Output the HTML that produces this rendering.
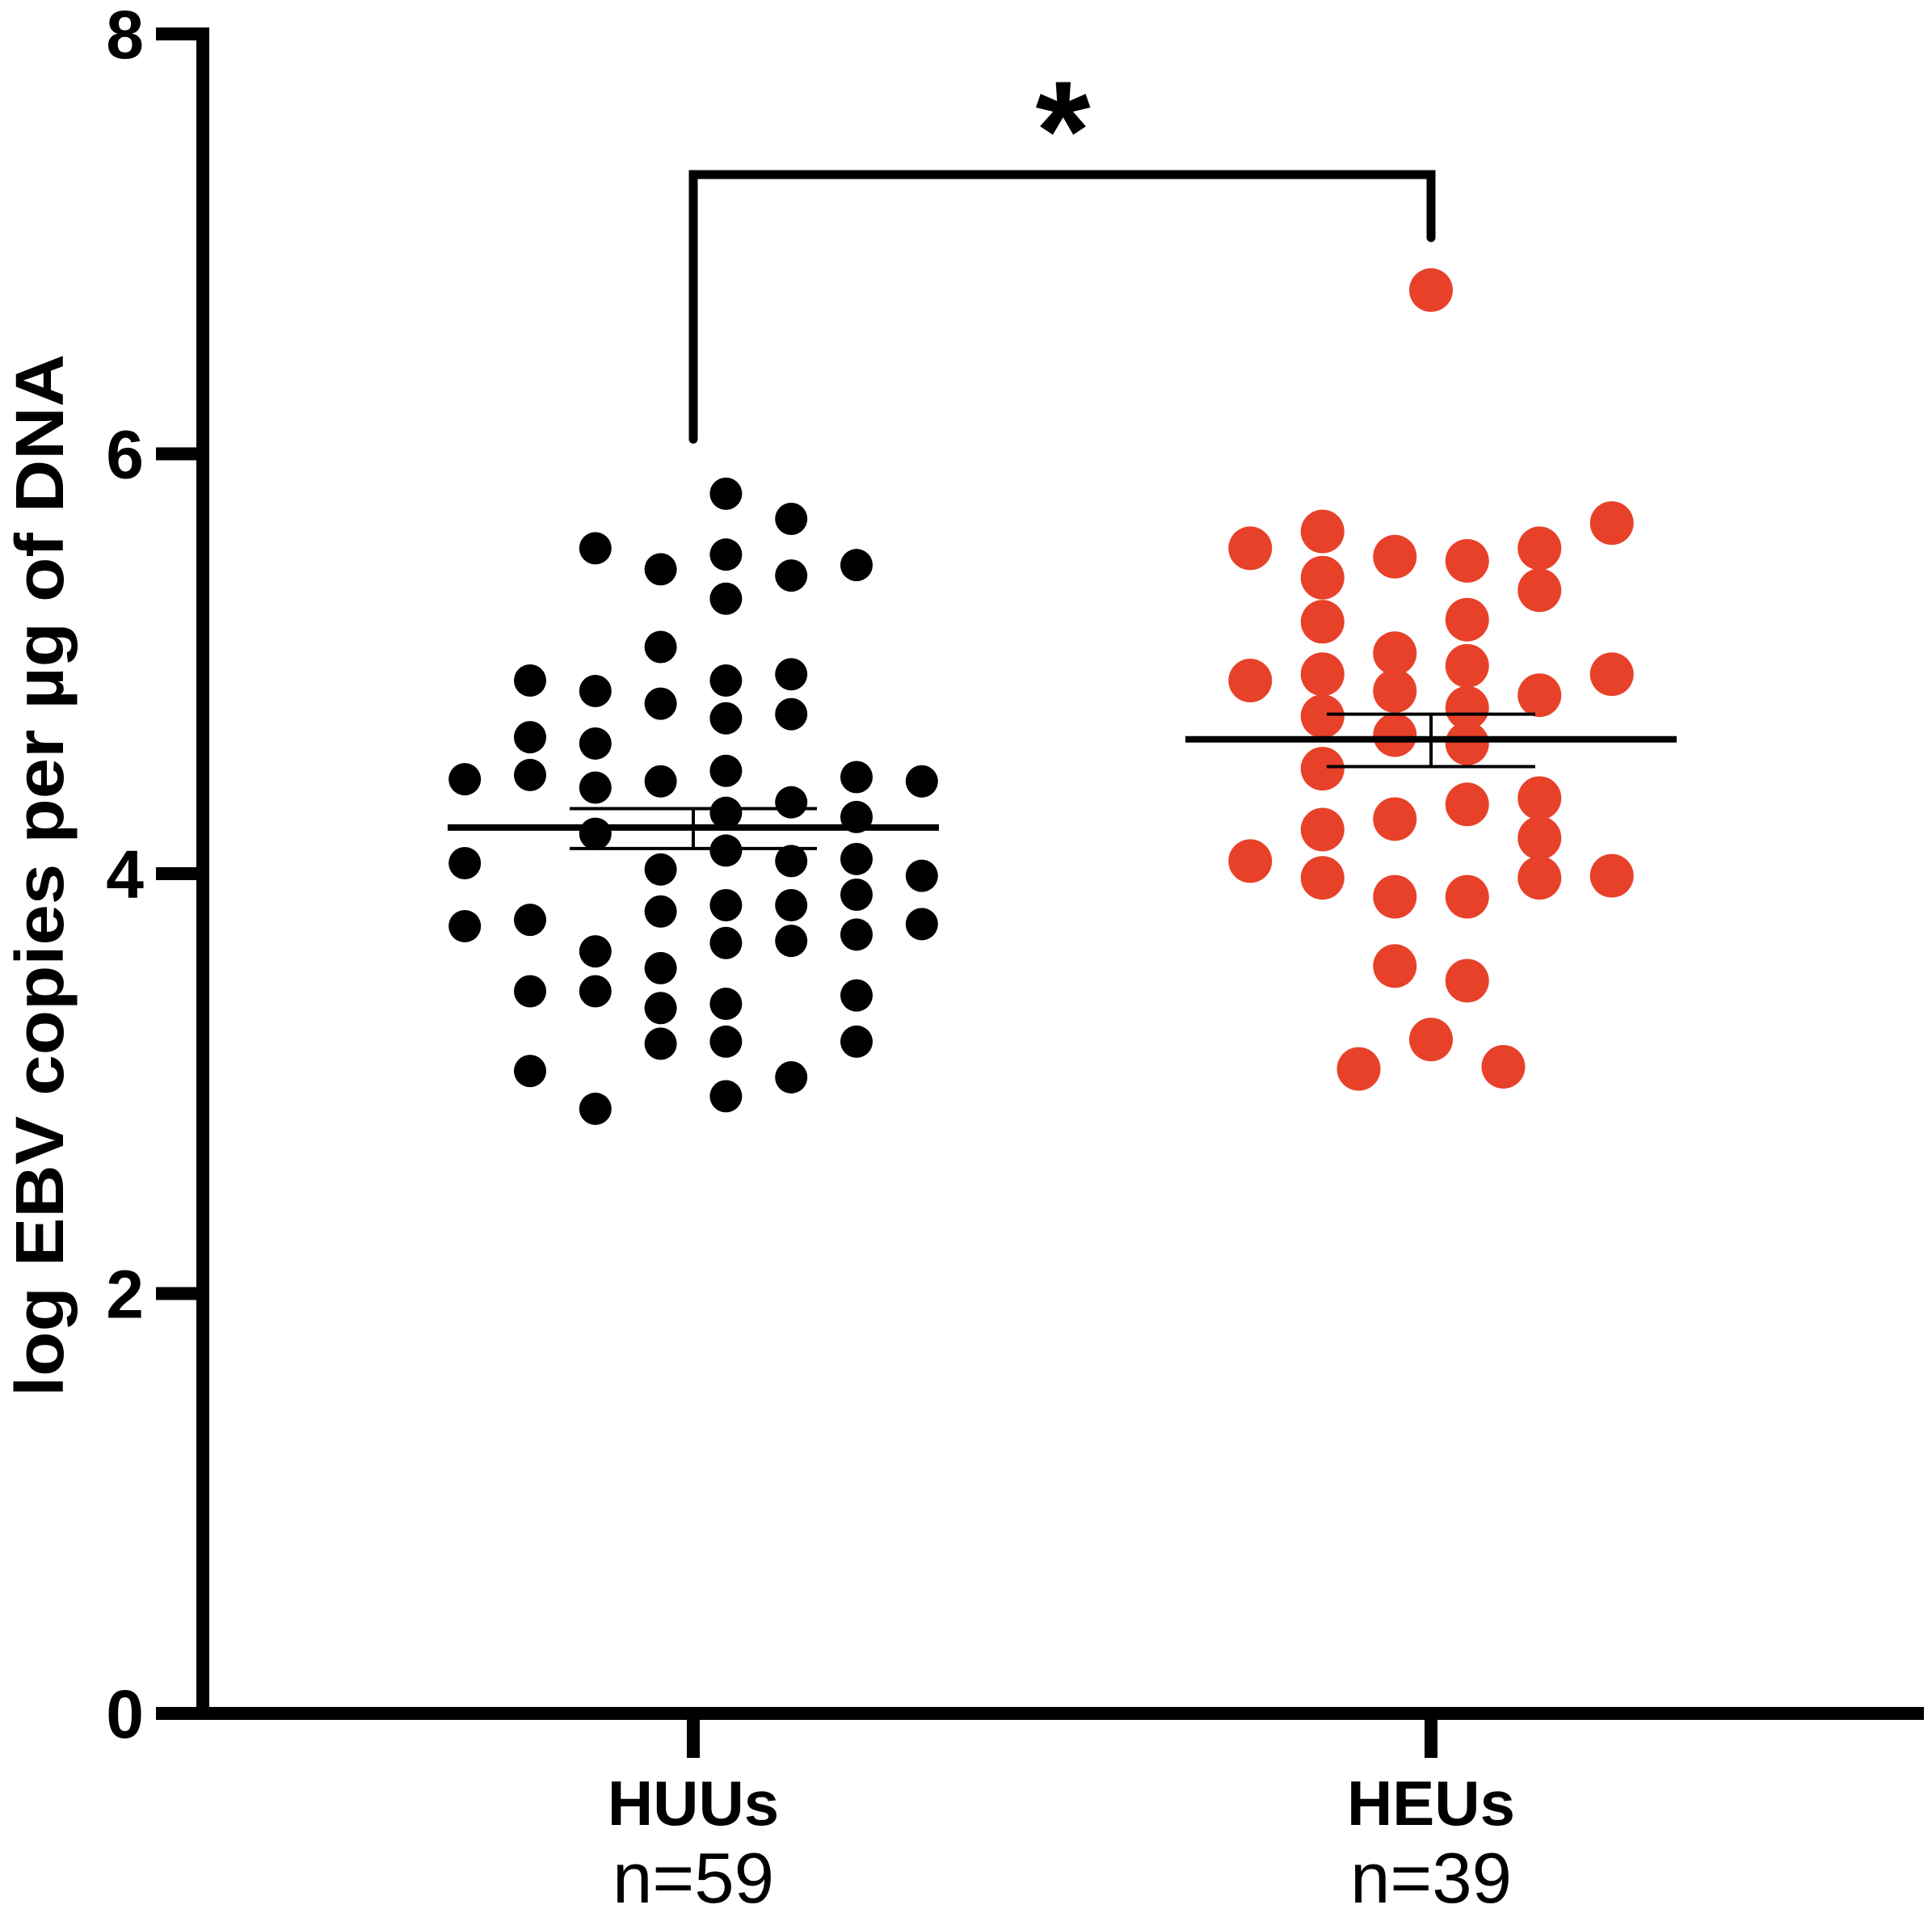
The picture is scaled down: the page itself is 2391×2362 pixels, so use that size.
<!DOCTYPE html>
<html><head><meta charset="utf-8"><style>html,body{margin:0;padding:0;background:#fff}svg{display:block}</style></head>
<body>
<svg id="chart" width="2391" height="2362" viewBox="0 0 2391 2362" xmlns="http://www.w3.org/2000/svg" font-family="Liberation Sans, sans-serif">
<g id="axes"></g>
<g id="marks"></g>
</svg>
<script>
const categories = ["HUUs", "HEUs"];
const counts = ["n=59", "n=39"];
const yTicks = [0, 2, 4, 6, 8];
// HUU values grouped by jitter column
const huuValues = [
  [4.45, 4.05, 3.75],
  [4.92, 4.65, 4.47, 3.78, 3.44, 3.06],
  [5.55, 4.87, 4.62, 4.41, 4.19, 3.63, 3.44, 2.88],
  [5.45, 5.08, 4.81, 4.44, 4.02, 3.82, 3.55, 3.36, 3.19],
  [5.81, 5.52, 5.31, 4.92, 4.74, 4.49, 4.29, 4.11, 3.85, 3.67, 3.38, 3.20, 2.94],
  [5.69, 5.42, 4.95, 4.76, 4.34, 4.06, 3.85, 3.68, 3.03],
  [5.47, 4.46, 4.27, 4.07, 3.90, 3.71, 3.42, 3.20],
  [4.44, 3.99, 3.76]
];
const huuColumnOffsets = [-3.5, -2.5, -1.5, -0.5, 0.5, 1.5, 2.5, 3.5];
const heuValues = [
  [5.55, 4.92, 4.06],
  [5.63, 5.41, 5.20, 4.95, 4.75, 4.50, 4.21, 3.98],
  [3.07],
  [5.51, 5.05, 4.87, 4.66, 4.26, 3.89, 3.56],
  [6.78, 3.21],
  [5.49, 5.21, 4.99, 4.79, 4.62, 4.33, 3.89, 3.49],
  [3.08],
  [5.55, 5.35, 4.85, 4.36, 4.17, 3.98],
  [5.67, 4.95, 3.99]
];
const heuColumnOffsets = [-2.5, -1.5, -1, -0.5, 0, 0.5, 1, 1.5, 2.5];
const means = [4.22, 4.64];
const semUpper = [4.31, 4.76];
const semLower = [4.12, 4.51];
const bracketLeft = 6.07, bracketTop = 7.33, bracketRight = 7.03;

const NS = "http://www.w3.org/2000/svg";
const y0 = 2120, pxPerUnit = 259.75;
const yScale = v => y0 - v * pxPerUnit;
const catX = [858, 1771];
const xScale = i => catX[i];
const axes = document.getElementById('axes');
const marks = document.getElementById('marks');
function mk(tag, attrs, parent, text) {
  const e = document.createElementNS(NS, tag);
  for (const k in attrs) e.setAttribute(k, attrs[k]);
  if (text !== undefined) e.textContent = text;
  parent.appendChild(e);
  return e;
}
let e;
e = mk('line', {x1:251, y1:yScale(8)-8, x2:251, y2:y0+8, stroke:'#000', 'stroke-width':16}, axes);


e = mk('line', {x1:193, y1:y0, x2:2381, y2:y0, stroke:'#000', 'stroke-width':16}, axes);


yTicks.forEach(t => {
  const y = yScale(t);
  e = mk('line', {x1:193, y1:y, x2:259, y2:y, stroke:'#000', 'stroke-width':16}, axes);
  
  
  e = mk('text', {x:178, y:y+30, 'text-anchor':'end', 'font-size':84, 'font-weight':'bold'}, axes, String(t));
  
  
});
categories.forEach((c, i) => {
  const x = xScale(i);
  e = mk('line', {x1:x, y1:y0, x2:x, y2:2175, stroke:'#000', 'stroke-width':16}, axes);
  
  
  e = mk('text', {x:x, y:2258, 'text-anchor':'middle', 'font-size':78, 'font-weight':'bold'}, axes, c);
  
  
  e = mk('text', {x:x, y:2354, 'text-anchor':'middle', 'font-size':88, textLength:200, lengthAdjust:'spacingAndGlyphs'}, axes, counts[i]);
  
  
});
e = mk('text', {transform:'translate(78,1083) rotate(-90)', 'text-anchor':'middle', 'font-size':84, 'font-weight':'bold', textLength:1290, lengthAdjust:'spacingAndGlyphs'}, axes, 'log EBV copies per µg of DNA');



const colStep = 80.8;
huuValues.forEach((col, ci) => {
  col.forEach(v => {
    e = mk('circle', {cx: xScale(0) + huuColumnOffsets[ci]*colStep, cy: yScale(v), r: 20, fill:'#000'}, marks);
    
    
  });
});
const heuStep = 89.5;
heuValues.forEach((col, ci) => {
  col.forEach(v => {
    e = mk('circle', {cx: xScale(1) + heuColumnOffsets[ci]*heuStep, cy: yScale(v), r: 27, fill:'#E8412A'}, marks);
    
    
  });
});
const meanHalf = [304, 304], semHalf = [153, 129];
categories.forEach((c, i) => {
  const x = xScale(i);
  e = mk('line', {x1:x-meanHalf[i], y1:yScale(means[i]), x2:x+meanHalf[i], y2:yScale(means[i]), stroke:'#000', 'stroke-width':8}, marks);
  
  
  e = mk('line', {x1:x, y1:yScale(semUpper[i]), x2:x, y2:yScale(semLower[i]), stroke:'#000', 'stroke-width':4}, marks);
  
  
  [semUpper[i], semLower[i]].forEach(s => {
    e = mk('line', {x1:x-semHalf[i], y1:yScale(s), x2:x+semHalf[i], y2:yScale(s), stroke:'#000', 'stroke-width':4}, marks);
    
    
  });
});
e = mk('polyline', {points:`${xScale(0)},${yScale(bracketLeft)} ${xScale(0)},${yScale(bracketTop)} ${xScale(1)},${yScale(bracketTop)} ${xScale(1)},${yScale(bracketRight)}`, fill:'none', stroke:'#000', 'stroke-width':11, 'stroke-linecap':'round'}, marks);


e = mk('text', {x:(xScale(0)+xScale(1))/2+1, y:222, 'text-anchor':'middle', 'font-size':175, 'font-weight':'bold'}, marks, '*');


</script>
</body></html>
